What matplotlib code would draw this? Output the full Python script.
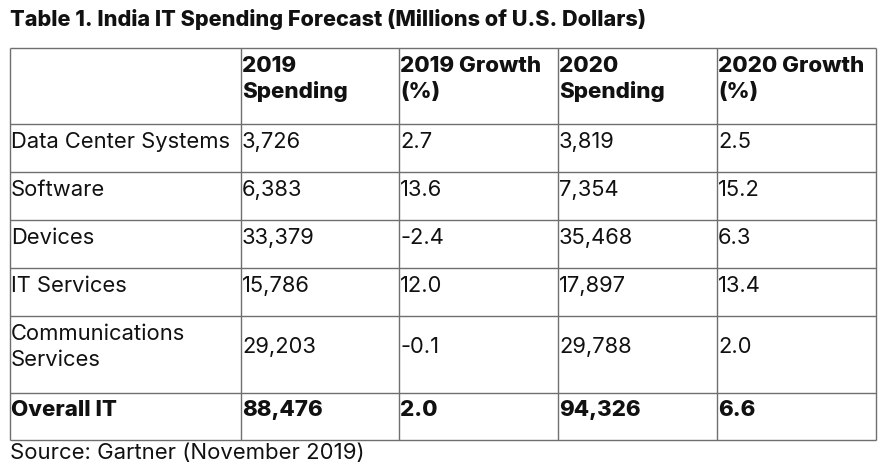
import matplotlib
matplotlib.use("Agg")
import matplotlib.pyplot as plt

title = "Table 1. India IT Spending Forecast (Millions of U.S. Dollars)"
source = "Source: Gartner (November 2019)"
headers = ["", "2019\nSpending", "2019 Growth\n(%)", "2020\nSpending", "2020 Growth\n(%)"]
segments = ["Data Center Systems", "Software", "Devices", "IT Services",
            "Communications\nServices"]
spending_2019 = [3726, 6383, 33379, 15786, 29203]
growth_2019 = [2.7, 13.6, -2.4, 12.0, -0.1]
spending_2020 = [3819, 7354, 35468, 17897, 29788]
growth_2020 = [2.5, 15.2, 6.3, 13.4, 2.0]
total_label = "Overall IT"
total_2019 = 88476
total_growth_2019 = 2.0
total_2020 = 94326
total_growth_2020 = 6.6

W, H = 883, 468
fig = plt.figure(figsize=(W / 100, H / 100), dpi=100)
ax = fig.add_axes([0, 0, 1, 1])
ax.set_xlim(0, W)
ax.set_ylim(H, 0)
ax.axis("off")

FONT = "Inter"
BODY = 15.8
BOLD = 16.1
col_x = [9.5, 240.5, 398.5, 557.5, 716.5, 875.5]
row_y = [48.3, 124.3, 172.3, 220.3, 268.3, 316.3, 392.7, 440.3]
LINE = "#6f6f6f"
LSP = 25.5

ax.hlines(row_y, col_x[0], col_x[-1], color=LINE, lw=1.0)
ax.vlines(col_x, row_y[0], row_y[-1], color=LINE, lw=1.0)

def cell(text, col, row, bold=False, center_lines=None):
    lines = text.split("\n")
    top = row_y[row]
    n = len(lines)
    if center_lines is None:
        center_lines = n
    first = top + 16 + (center_lines - n) * LSP / 2
    for i, ln in enumerate(lines):
        ax.text(col_x[col] + 1.5, first + i * LSP + 7.8, ln, family=FONT,
                fontsize=BOLD if bold else BODY,
                fontweight=800 if bold else "normal",
                va="baseline", ha="left", color="#111111")

for c, h in enumerate(headers):
    if h:
        cell(h, c, 0, bold=True)

for i, seg in enumerate(segments):
    vals = [seg, f"{spending_2019[i]:,}", f"{growth_2019[i]:.1f}",
            f"{spending_2020[i]:,}", f"{growth_2020[i]:.1f}"]
    nl = seg.count("\n") + 1
    for c, v in enumerate(vals):
        cell(v, c, i + 1, center_lines=nl)

tot = [total_label, f"{total_2019:,}", f"{total_growth_2019:.1f}",
       f"{total_2020:,}", f"{total_growth_2020:.1f}"]
for c, v in enumerate(tot):
    cell(v, c, len(segments) + 1, bold=True)

ax.text(10, 26, title, family=FONT, fontsize=15.6, fontweight=800,
        va="baseline", ha="left", color="#111111")
ax.text(10, 459, source, family=FONT, fontsize=15.9, va="baseline",
        ha="left", color="#111111")

fig.savefig("out.png", dpi=100, facecolor="white")
